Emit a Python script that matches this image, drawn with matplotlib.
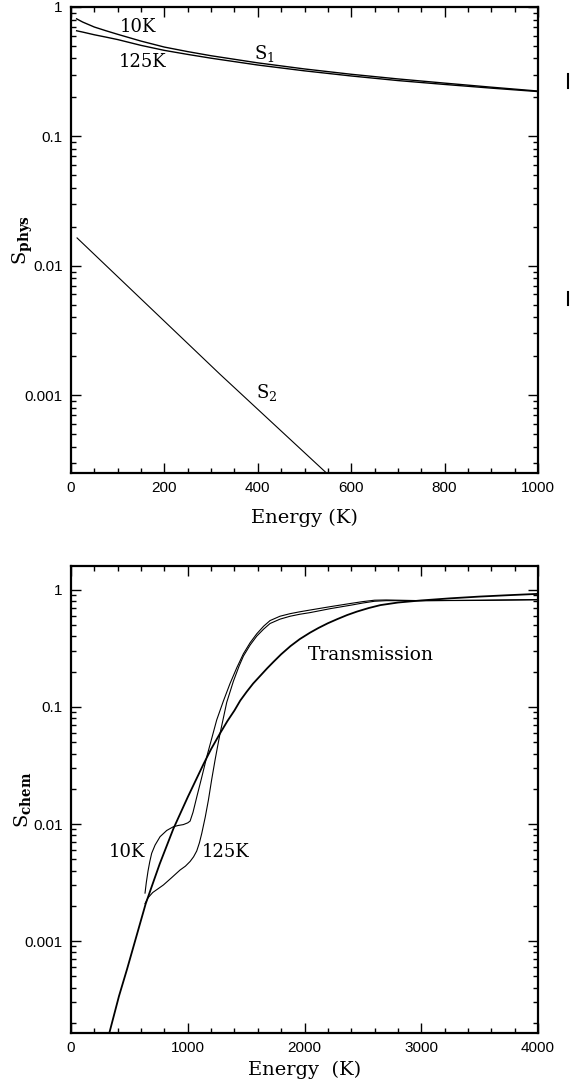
import numpy as np
import matplotlib
matplotlib.use("Agg")
import matplotlib.pyplot as plt
from matplotlib.ticker import FixedLocator, FixedFormatter, LogLocator, MultipleLocator, NullFormatter
from matplotlib.lines import Line2D

plt.rcParams['mathtext.fontset'] = 'dejavuserif'

# ---------------- data: top panel (S_phys) ----------------
e_s1 = [12, 25, 50, 75, 100, 150, 200, 250, 300, 400, 500, 600, 700, 800, 900, 1000]
s1_10k = [0.81, 0.765, 0.70, 0.655, 0.615, 0.545, 0.49, 0.452, 0.42, 0.37, 0.332,
          0.302, 0.278, 0.258, 0.24, 0.224]
s1_125k = [0.655, 0.64, 0.61, 0.585, 0.56, 0.505, 0.462, 0.43, 0.402, 0.356, 0.321,
           0.293, 0.27, 0.252, 0.236, 0.222]
e_s2 = [13, 319, 547, 600]
s2 = [0.0164, 0.00145, 0.00025, 0.000197]

# ---------------- data: bottom panel (S_chem) ----------------
e_tr = [328, 411, 480, 560, 640, 760, 877, 1000, 1134, 1200, 1277, 1340, 1400, 1450,
        1505, 1560, 1620, 1680, 1734, 1800, 1880, 1960, 2048, 2120, 2200, 2280, 2365,
        2450, 2550, 2650, 2800, 3000, 3250, 3500, 3750, 4000]
log_tr = [-3.786, -3.47, -3.24, -2.96, -2.68, -2.34, -2.04, -1.77, -1.49, -1.36,
          -1.225, -1.12, -1.03, -0.945, -0.87, -0.80, -0.735, -0.67, -0.615, -0.55,
          -0.48, -0.42, -0.365, -0.325, -0.285, -0.25, -0.215, -0.185, -0.155, -0.13,
          -0.108, -0.09, -0.072, -0.057, -0.045, -0.034]
e_10k = [634, 645, 660, 675, 691, 720, 763, 820, 877, 920, 962, 1000, 1020, 1045,
         1077, 1120, 1163, 1205, 1248, 1305, 1362, 1420, 1477, 1535, 1591, 1650,
         1705, 1790, 1877, 1960, 2048, 2222, 2400, 2500, 2600, 2700, 2800, 3000,
         3500, 4000]
log_10k = [-2.59, -2.50, -2.40, -2.32, -2.25, -2.18, -2.108, -2.055, -2.023, -2.012,
           -2.005, -1.99, -1.975, -1.90, -1.77, -1.60, -1.425, -1.27, -1.111, -0.95,
           -0.80, -0.665, -0.545, -0.45, -0.375, -0.31, -0.262, -0.225, -0.203,
           -0.187, -0.172, -0.143, -0.115, -0.10, -0.088, -0.086, -0.088, -0.092,
           -0.088, -0.082]
e_125k = [634, 660, 700, 750, 791, 860, 934, 980, 1020, 1050, 1077, 1100, 1120, 1150,
          1177, 1205, 1234, 1255, 1277, 1334, 1391, 1440, 1477, 1535, 1591, 1650,
          1705, 1790, 1877, 1960, 2048, 2222, 2400, 2500, 2600, 2700, 2800, 3000,
          3500, 4000]
log_125k = [-2.68, -2.63, -2.585, -2.55, -2.521, -2.46, -2.393, -2.36, -2.32, -2.28,
            -2.23, -2.16, -2.08, -1.94, -1.795, -1.62, -1.453, -1.34, -1.225, -0.96,
            -0.78, -0.65, -0.565, -0.47, -0.395, -0.335, -0.287, -0.25, -0.225,
            -0.208, -0.194, -0.16, -0.13, -0.112, -0.097, -0.092, -0.092, -0.092,
            -0.09, -0.085]

ytick_vals = [1, 0.1, 0.01, 0.001]
ytick_labels = ['1', '0.1', '0.01', '0.001']

fig = plt.figure(figsize=(5.74, 10.86), dpi=100)
W, H = 574.0, 1086.0
ax1 = fig.add_axes([71 / W, 1 - 473 / H, 467 / W, 466 / H])
ax2 = fig.add_axes([71 / W, 1 - 1033 / H, 467 / W, 467 / H])

for ax in (ax1, ax2):
    ax.set_yscale('log')
    ax.yaxis.set_major_locator(FixedLocator(ytick_vals))
    ax.yaxis.set_major_formatter(FixedFormatter(ytick_labels))
    ax.yaxis.set_minor_locator(LogLocator(base=10, subs=np.arange(2, 10)))
    ax.yaxis.set_minor_formatter(NullFormatter())
    ax.tick_params(which='both', direction='in', top=True, right=True, width=1.0)
    ax.tick_params(which='major', length=7, pad=6)
    ax.tick_params(which='minor', length=3.5)
    for sp in ax.spines.values():
        sp.set_linewidth(1.6)

# ---- top panel ----
ax1.plot(e_s1, s1_10k, color='black', lw=1.0)
ax1.plot(e_s1, s1_125k, color='black', lw=1.0)
ax1.plot(e_s2, s2, color='black', lw=0.8)
ax1.set_xlim(0, 1000)
ax1.set_ylim(2.5e-4, 1)
ax1.xaxis.set_major_locator(MultipleLocator(200))
ax1.xaxis.set_minor_locator(MultipleLocator(50))
ax1.set_xlabel('Energy (K)', family='DejaVu Serif', fontsize=14, labelpad=10)
ax1.text(-0.103, 0.5, r'$\mathrm{S}_{\mathbf{phys}}$', transform=ax1.transAxes,
         rotation=90, ha='center', va='center', fontsize=14)
ax1.text(143, 0.70, '10K', family='DejaVu Serif', fontsize=13, ha='center', va='center')
ax1.text(154, 0.376, '125K', family='DejaVu Serif', fontsize=13, ha='center', va='center')
ax1.text(415, 0.44, r'$\mathrm{S}_1$', fontsize=13, ha='center', va='center')
ax1.text(418, 0.00105, r'$\mathrm{S}_2$', fontsize=13, ha='center', va='center')

# ---- bottom panel ----
ax2.plot(e_tr, 10 ** np.array(log_tr), color='black', lw=1.3)
ax2.plot(e_10k, 10 ** np.array(log_10k), color='black', lw=0.8)
ax2.plot(e_125k, 10 ** np.array(log_125k), color='black', lw=0.8)
ax2.set_xlim(0, 4000)
ax2.set_ylim(1.64e-4, 1.6)
ax2.xaxis.set_major_locator(MultipleLocator(1000))
ax2.xaxis.set_minor_locator(MultipleLocator(200))
ax2.set_xlabel('Energy  (K)', family='DejaVu Serif', fontsize=14, labelpad=4)
ax2.text(-0.103, 0.5, r'$\mathrm{S}_{\mathbf{chem}}$', transform=ax2.transAxes,
         rotation=90, ha='center', va='center', fontsize=14)
ax2.text(480, 0.00577, '10K', family='DejaVu Serif', fontsize=13, ha='center', va='center')
ax2.text(1320, 0.00577, '125K', family='DejaVu Serif', fontsize=13, ha='center', va='center')
ax2.text(2571, 0.278, 'Transmission', family='DejaVu Serif', fontsize=13.5,
         ha='center', va='center')

for ax in (ax1, ax2):
    for lab in ax.get_xticklabels() + ax.get_yticklabels():
        lab.set_fontfamily('Liberation Sans')
        lab.set_fontsize(11)

# small marks at the right edge of the page (as in the reference)
for y0, y1 in [(74, 88), (292, 305)]:
    fig.add_artist(Line2D([568 / W, 568 / W], [1 - y0 / H, 1 - y1 / H],
                          transform=fig.transFigure, color='black', lw=1.5))

fig.savefig('out.png', dpi=100)
